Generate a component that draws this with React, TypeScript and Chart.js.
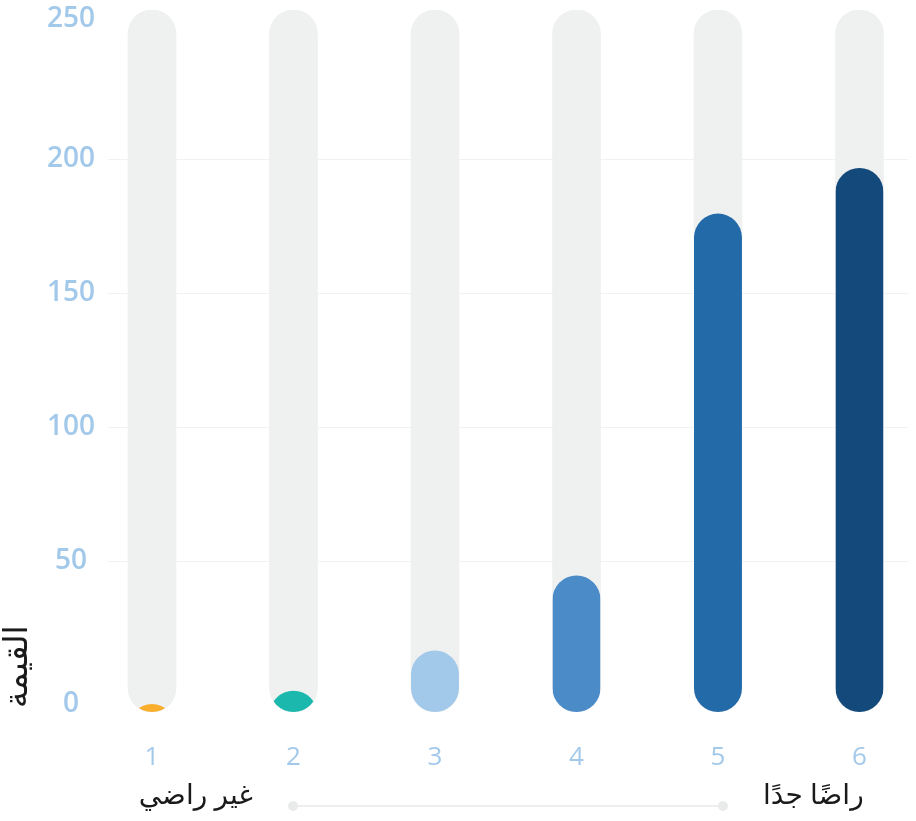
import React, { useEffect, useRef } from "react";
import { Chart, registerables } from "chart.js";

Chart.register(...registerables);

// ---- data ----
const CATEGORIES = ["1", "2", "3", "4", "5", "6"];
const VALUES = [0, 5, 20, 48, 183, 200];
const BAR_COLORS = ["#f9ae2e", "#1bb8ad", "#a3c9ea", "#4a8bc8", "#236aa9", "#144a7b"];
const Y_TICKS = [0, 50, 100, 150, 200, 250];
const Y_TITLE = "القيمة";
const LOW_LABEL = "غير راضي";
const HIGH_LABEL = "راضًا جدًا";

// axis limits (the grey track spans the full axis range)
const AXIS_MIN = -6.3;
const AXIS_MAX = 255.6;
const X_MIN = 0.689;
const X_MAX = 6.343;

// styles
const TRACK_COLOR = "#eff0f0";
const TICK_COLOR = "#a3c9ea";
const GRID_COLOR = "#f2f2f3";
const TEXT_COLOR = "#1a1a1a";
const BAR_WIDTH = 48;
const CAP_OFFSET = 9;
const FONT = '"Open Sans", "Noto Sans", "DejaVu Sans", sans-serif';

const pillPlugin = {
  id: "pillBars",
  beforeDatasetDraw(chart: any, args: any) {
    if (args.index !== 1) return;
    const ctx = chart.ctx;
    const trackMeta = chart.getDatasetMeta(0);
    const meta = args.meta;
    meta.data.forEach((el: any, i: number) => {
      const t = trackMeta.data[i];
      if (!t) return;
      const w = t.width;
      const r = w / 2;
      const top = Math.min(t.y, t.base);
      const bottom = Math.max(t.y, t.base);
      ctx.save();
      ctx.beginPath();
      ctx.roundRect(t.x - r, top, w, bottom - top, r);
      ctx.clip();
      const vTop = el.y + CAP_OFFSET;
      const ext = Math.max(vTop + r, bottom) + 2;
      ctx.beginPath();
      ctx.moveTo(el.x - r, ext);
      ctx.lineTo(el.x - r, vTop + r);
      ctx.arc(el.x, vTop + r, r, Math.PI, 0);
      ctx.lineTo(el.x + r, ext);
      ctx.closePath();
      ctx.fillStyle = BAR_COLORS[i % BAR_COLORS.length];
      ctx.fill();
      ctx.restore();
    });
    return false;
  },
  afterDraw(chart: any) {
    const ctx = chart.ctx;
    const y = chart.scales.y;
    const area = chart.chartArea;
    ctx.save();
    // y tick labels (first/last flush with the track ends)
    ctx.font = `600 28px ${FONT}`;
    ctx.fillStyle = TICK_COLOR;
    ctx.textAlign = "center";
    ctx.textBaseline = "alphabetic";
    const n = Y_TICKS.length;
    Y_TICKS.forEach((v, i) => {
      let by = y.getPixelForValue(v) + 8;
      if (i === 0) by = area.bottom;
      if (i === n - 1) by = area.top + 17;
      ctx.fillText(String(v), 71, by);
    });
    // y title rotated
    ctx.save();
    ctx.translate(27, 708);
    ctx.rotate(-Math.PI / 2);
    ctx.font = `400 33px ${FONT}`;
    ctx.fillStyle = TEXT_COLOR;
    ctx.textAlign = "left";
    ctx.textBaseline = "alphabetic";
    ctx.fillText(Y_TITLE, 0, 0);
    ctx.restore();
    // bottom scale annotation
    const lineY = 806;
    const x0 = 293;
    const x1 = 723;
    ctx.strokeStyle = "#eeeeee";
    ctx.lineWidth = 2;
    ctx.beginPath();
    ctx.moveTo(x0, lineY);
    ctx.lineTo(x1, lineY);
    ctx.stroke();
    ctx.fillStyle = "#e9eaea";
    [x0, x1].forEach((cx) => {
      ctx.beginPath();
      ctx.arc(cx, lineY, 5, 0, Math.PI * 2);
      ctx.fill();
    });
    ctx.font = `400 28px ${FONT}`;
    ctx.fillStyle = TEXT_COLOR;
    ctx.textBaseline = "alphabetic";
    ctx.textAlign = "right";
    ctx.fillText(LOW_LABEL, x0 - 40, 804);
    ctx.textAlign = "left";
    ctx.fillText(HIGH_LABEL, x1 + 40, 804);
    ctx.restore();
  },
};

export default function App() {
  const ref = useRef<HTMLCanvasElement | null>(null);
  useEffect(() => {
    if (!ref.current) return;
    const chart = new Chart(ref.current, {
      type: "bar",
      data: {
        datasets: [
          {
            label: "track",
            data: CATEGORIES.map((_, i) => ({ x: i + 1, y: [AXIS_MIN, AXIS_MAX] })) as any,
            backgroundColor: TRACK_COLOR,
            borderRadius: BAR_WIDTH / 2,
            borderSkipped: false,
            barThickness: BAR_WIDTH,
            grouped: false,
            order: 2,
          },
          {
            label: "القيمة",
            data: CATEGORIES.map((_, i) => ({ x: i + 1, y: VALUES[i] })) as any,
            backgroundColor: BAR_COLORS,
            barThickness: BAR_WIDTH,
            grouped: false,
            order: 1,
          },
        ],
      },
      options: {
        responsive: false,
        animation: false,
        layout: { padding: { top: 10, right: 8, left: 0, bottom: 0 } },
        plugins: {
          legend: { display: false },
          tooltip: { enabled: false },
        },
        scales: {
          x: {
            type: "linear",
            offset: false,
            min: X_MIN,
            max: X_MAX,
            grid: { display: false, drawTicks: false },
            border: { display: false },
            afterFit: (s: any) => {
              s.height = 109;
            },
            ticks: {
              stepSize: 1,
              includeBounds: false,
              padding: 30,
              color: TICK_COLOR,
              font: { family: FONT, size: 26, weight: "500" },
              callback: (v: any) => CATEGORIES[Number(v) - 1] ?? "",
            },
          },
          y: {
            type: "linear",
            min: AXIS_MIN,
            max: AXIS_MAX,
            afterFit: (s: any) => {
              s.width = 108;
            },
            afterBuildTicks: (s: any) => {
              s.ticks = Y_TICKS.map((v) => ({ value: v }));
            },
            grid: {
              drawTicks: false,
              color: (c: any) =>
                c.tick && (c.tick.value === Y_TICKS[0] || c.tick.value === Y_TICKS[Y_TICKS.length - 1])
                  ? "rgba(0,0,0,0)"
                  : GRID_COLOR,
              lineWidth: 1,
            },
            border: { display: false },
            ticks: { display: false },
          },
        },
      },
      plugins: [pillPlugin],
    });
    return () => chart.destroy();
  }, []);
  return (
    <div style={{ position: "absolute", left: 0, top: 0, width: 916, height: 821 }}>
      <canvas ref={ref} width={916} height={821} style={{ width: 916, height: 821, display: "block" }} />
    </div>
  );
}
